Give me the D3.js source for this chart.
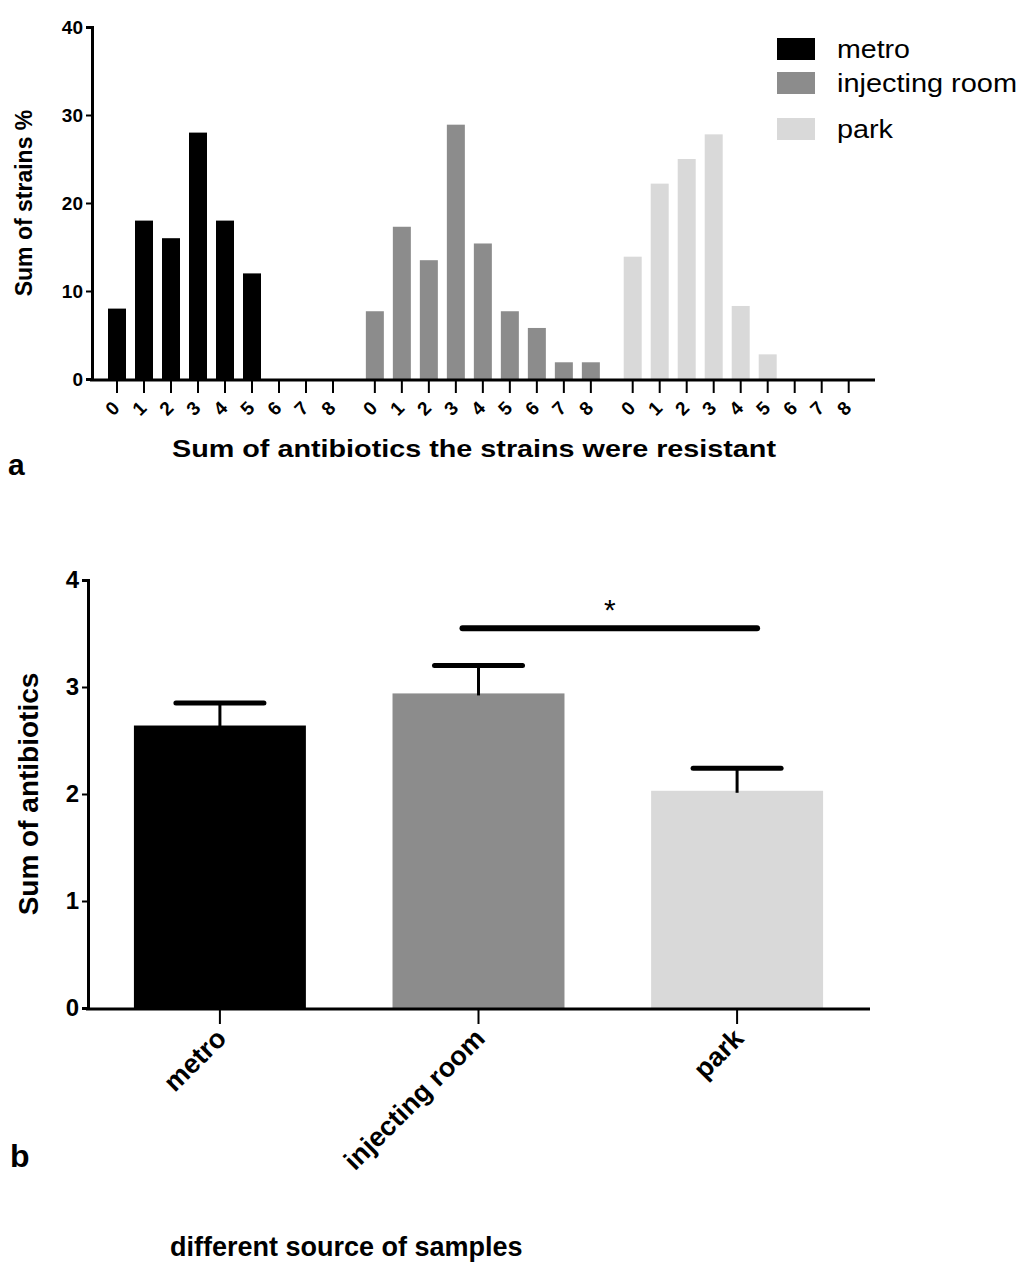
<!DOCTYPE html><html><head><script src="https://cdn.jsdelivr.net/npm/d3@7"></script>
<style>body{margin:0;background:#fff}</style></head><body><svg id="c" width="1024" height="1277"></svg>
<script>
const groups=["metro","injecting room","park"];
const colors=["#000000","#8c8c8c","#d9d9d9"];
const counts=[0,1,2,3,4,5,6,7,8];
const metroPct=[8,18,16,28,18,12,0,0,0];
const injectPct=[7.7,17.3,13.5,28.9,15.4,7.7,5.8,1.9,1.9];
const parkPct=[13.9,22.2,25,27.8,8.3,2.8,0,0,0];
const yTicksA=[0,10,20,30,40];
const means=[2.64,2.94,2.03];
const errTop=[2.85,3.2,2.24];
const yTicksB=[0,1,2,3,4];
const sig={from:1,to:2,y:3.55,label:"*"};

const svg=d3.select("#c");
const NF="'Liberation Sans Narrow','Arial Narrow',sans-serif";
const BF="'Liberation Sans',Arial,sans-serif";
// Chart a
const xA=d3.scaleLinear().domain([0,1]).range([117,144]);
const pos=(g,i)=>xA(g*9.55+i);
const yA=d3.scaleLinear().domain([0,40]).range([379,27]);
const pct=[metroPct,injectPct,parkPct];
pct.forEach((arr,g)=>{
  svg.selectAll(null).data(arr).enter().append("rect")
   .attr("x",(d,i)=>pos(g,i)-9).attr("width",18)
   .attr("y",d=>yA(d)).attr("height",d=>yA(0)-yA(d)).attr("fill",colors[g]);
});
const ga=svg.append("g").attr("transform","translate(92,0)").call(d3.axisLeft(yA).tickValues(yTicksA).tickSize(6).tickFormat(d3.format("d")));
ga.select(".domain").attr("stroke-width",3);
ga.selectAll("line").attr("stroke-width",2);
ga.selectAll("text").attr("font-family",BF).attr("font-weight","bold").attr("font-size",19).attr("fill","#000");
svg.append("line").attr("x1",90).attr("x2",875).attr("y1",yA(0)+1).attr("y2",yA(0)+1).attr("stroke","#000").attr("stroke-width",3);
[0,1,2].forEach(g=>counts.forEach(i=>{
  const x=pos(g,i);
  svg.append("line").attr("x1",x).attr("x2",x).attr("y1",yA(0)+2).attr("y2",yA(0)+14).attr("stroke","#000").attr("stroke-width",2);
  svg.append("text").attr("transform",`translate(${x},${yA(0)+34}) rotate(-45)`).attr("text-anchor","middle")
   .attr("font-family",BF).attr("font-weight","bold").attr("font-size",19).text(i);
}));
svg.append("text").attr("x",172).attr("y",457).attr("textLength",604).attr("lengthAdjust","spacingAndGlyphs").attr("font-family",BF).attr("font-weight","bold").attr("font-size",24).text("Sum of antibiotics the strains were resistant");
svg.append("text").attr("transform","translate(32,203) rotate(-90)").attr("text-anchor","middle").attr("font-family",BF).attr("font-weight","bold").attr("font-size",23).text("Sum of strains %");
const legLen=[73,180,56];
groups.forEach((g,k)=>{
  const y=[38,72,118][k];
  svg.append("rect").attr("x",777).attr("y",y).attr("width",38).attr("height",22).attr("fill",colors[k]);
  svg.append("text").attr("x",837).attr("y",y+20).attr("textLength",legLen[k]).attr("lengthAdjust","spacingAndGlyphs").attr("font-family",BF).attr("font-size",26).text(g);
});
svg.append("text").attr("x",8).attr("y",475).attr("font-family",BF).attr("font-weight","bold").attr("font-size",30).text("a");
// Chart b
const xB=d3.scaleBand().domain(groups).range([91,866]).paddingInner(0.335).paddingOuter(0.166);
const yB=d3.scaleLinear().domain([0,4]).range([1008,580]);
svg.selectAll(null).data(groups).enter().append("rect")
 .attr("x",d=>xB(d)).attr("width",xB.bandwidth()).attr("y",(d,i)=>yB(means[i])).attr("height",(d,i)=>yB(0)-yB(means[i])).attr("fill",(d,i)=>colors[i]);
groups.forEach((g,i)=>{
  const cx=xB(g)+xB.bandwidth()/2;
  svg.append("line").attr("x1",cx).attr("x2",cx).attr("y1",yB(means[i])+2).attr("y2",yB(errTop[i])).attr("stroke","#000").attr("stroke-width",3);
  svg.append("line").attr("x1",cx-44).attr("x2",cx+44).attr("y1",yB(errTop[i])).attr("y2",yB(errTop[i])).attr("stroke","#000").attr("stroke-width",5).attr("stroke-linecap","round");
});
const gb=svg.append("g").attr("transform","translate(88,0)").call(d3.axisLeft(yB).tickValues(yTicksB).tickSize(6).tickFormat(d3.format("d")));
gb.select(".domain").attr("stroke-width",3);
gb.selectAll("line").attr("stroke-width",2);
gb.selectAll("text").attr("font-family",BF).attr("font-weight","bold").attr("font-size",24).attr("fill","#000");
svg.append("line").attr("x1",86).attr("x2",870).attr("y1",yB(0)+1).attr("y2",yB(0)+1).attr("stroke","#000").attr("stroke-width",3);
groups.forEach(g=>{
  const cx=xB(g)+xB.bandwidth()/2;
  svg.append("line").attr("x1",cx).attr("x2",cx).attr("y1",yB(0)+2).attr("y2",yB(0)+16).attr("stroke","#000").attr("stroke-width",2);
  svg.append("text").attr("transform",`translate(${cx+8},${yB(0)+32}) rotate(-45)`).attr("text-anchor","end")
   .attr("font-family",BF).attr("font-weight","bold").attr("font-size",27).text(g);
});
const sx1=xB(groups[sig.from])+xB.bandwidth()/2-16, sx2=xB(groups[sig.to])+xB.bandwidth()/2+20;
svg.append("line").attr("x1",sx1).attr("x2",sx2).attr("y1",yB(sig.y)).attr("y2",yB(sig.y)).attr("stroke","#000").attr("stroke-width",6).attr("stroke-linecap","round");
svg.append("text").attr("x",(sx1+sx2)/2).attr("y",yB(sig.y)-8).attr("text-anchor","middle").attr("font-family",BF).attr("font-size",30).text(sig.label);
svg.append("text").attr("transform","translate(38,794) rotate(-90)").attr("text-anchor","middle").attr("font-family",BF).attr("font-weight","bold").attr("font-size",28).text("Sum of antibiotics");
svg.append("text").attr("x",10).attr("y",1167).attr("font-family",BF).attr("font-weight","bold").attr("font-size",32).text("b");
svg.append("text").attr("x",170).attr("y",1256).attr("font-family",BF).attr("font-weight","bold").attr("font-size",27).text("different source of samples");
</script></body></html>
